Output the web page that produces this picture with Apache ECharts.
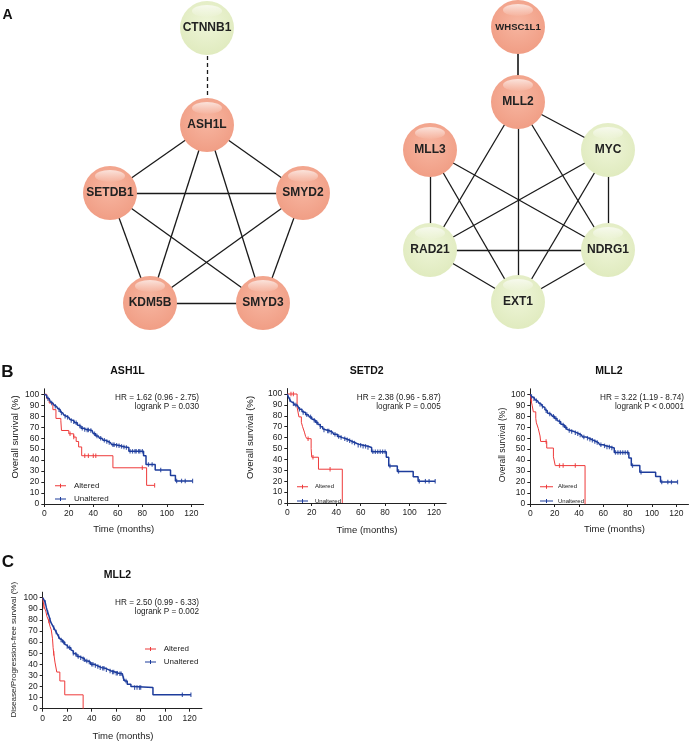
<!DOCTYPE html>
<html><head><meta charset="utf-8">
<script src="https://cdn.jsdelivr.net/npm/echarts@6/dist/echarts.min.js"></script>
<style>html,body{margin:0;padding:0;background:#fff}#c{width:690px;height:743px}</style>
</head><body><div id="c"></div>
<script>
// ---------- Panel A: interaction networks ----------
const networkLeftNodes = ['CTNNB1', 'ASH1L', 'SETDB1', 'SMYD2', 'KDM5B', 'SMYD3'];
const networkRightNodes = ['WHSC1L1', 'MLL2', 'MLL3', 'MYC', 'RAD21', 'NDRG1', 'EXT1'];
const mutatedGenes = ['ASH1L', 'SETDB1', 'SMYD2', 'KDM5B', 'SMYD3', 'WHSC1L1', 'MLL2', 'MLL3'];
const solidEdges = [
  ['ASH1L','SETDB1'],['ASH1L','SMYD2'],['ASH1L','KDM5B'],['ASH1L','SMYD3'],
  ['SETDB1','SMYD2'],['SETDB1','KDM5B'],['SETDB1','SMYD3'],
  ['SMYD2','KDM5B'],['SMYD2','SMYD3'],['KDM5B','SMYD3'],
  ['WHSC1L1','MLL2'],['MLL2','MYC'],['MLL2','RAD21'],['MLL2','EXT1'],['MLL2','NDRG1'],
  ['MLL3','RAD21'],['MLL3','EXT1'],['MLL3','NDRG1'],
  ['MYC','NDRG1'],['MYC','RAD21'],['MYC','EXT1'],
  ['RAD21','NDRG1'],['RAD21','EXT1'],['NDRG1','EXT1']
];
const dashedEdges = [['CTNNB1','ASH1L']];

// ---------- Panels B/C: Kaplan-Meier curves [months, survival %] ----------
const ash1lAltered = [[0,100],[2,96],[4,92],[7,86],[9.5,78],[13.5,76],[14,67],[20,64],[24,61],[26,57],[28,52],[30.5,44],[56,33],[83.5,17],[90,17]];
const ash1lUnaltered = [[0,100],[1,99],[2,97],[3,96],[4,95],[5,93],[6,92],[7,91],[8,90],[9,89],[10,88],[11,87],[12,86],[13,84],[14,83],[15,82],[16,81],[17,80],[18,79],[20,78],[21,77],[22,76],[24,75],[25,74],[27,72],[28,71],[30,69],[32,68],[34,67.5],[37,67],[39,66],[40,64],[42,62],[44,61],[45,60],[47,59],[48,58],[50,57],[52,56],[54,55],[55,54],[58,53.5],[60,53],[62,52.5],[64,52],[66,51.5],[69,48],[81,44],[83,36],[90.5,31],[103,26],[107,21],[121,21]];
const ash1lAlteredCensor = [21,24,33,36,40,42,80,90];
const ash1lUnalteredCensor = [3,6,9,12,14,17,19,22,24,26,29,31,33,35,36,38,41,43,46,49,51,53,56,57,59,61,63,65,67,70,72,74,75,77,78,80,85,88,95,108,112,115,121];

const setd2Altered = [[0,100],[8,88],[9.5,79],[11.5,74],[12.5,70],[14,65],[15,61],[16,59],[19.5,50],[20,42],[25.5,31],[45,0]];
const setd2Unaltered = [[0,100],[1,97],[2,95],[3,93],[4,92],[5,91],[6,90],[8,89],[9,88],[10,86],[12,84],[13,83],[15,81],[17,80],[18,79],[20,77],[21,76],[23,74],[25,72],[27,70],[29,68],[30,67],[32,66],[35,65],[37,64],[38,63],[41,61],[43,60],[45,59],[48,58],[50,57],[52,56],[54,55],[56,54],[58,53],[62,52],[66,51],[69,47],[81,42],[83,34],[90,29],[103,24],[107,20],[121,20]];
const setd2AlteredCensor = [3,5,17,21,35];
const setd2UnalteredCensor = [2,5,7,10,13,16,19,22,24,27,30,33,34,36,39,42,44,47,49,51,53,55,58,60,62,64,66,70,72,74,76,78,80,84,91,108,113,116,121];

const mll2Altered = [[0,100],[0.5,95],[1.5,90],[2.5,84],[4.5,78],[5,74],[6.5,69],[8,62],[8.5,57],[13.5,51],[19,43],[20.5,35],[45,0]];
const mll2Unaltered = [[0,100],[1,98],[2,97],[3,96],[4,95],[5,94],[6,93],[7,92],[8,91],[9,90],[10,89],[11,88],[12,86],[13,85],[14,83],[15,82],[17,81],[18,80],[20,78],[22,76],[23,75],[25,73],[26,72],[28,70],[30,68],[31,67],[33,66],[36,65],[38,64],[40,63],[42,62],[43,61],[46,60],[48,59],[50,58],[52,57],[54,56],[56,55],[57,54],[60,53],[62,52],[66,51],[69,47],[81,42],[83,35],[90,29],[103,25],[107,20],[121,20]];
const mll2AlteredCensor = [1,13,24,27,37];
const mll2UnalteredCensor = [1,3,5,8,10,13,16,19,21,24,27,29,32,34,37,39,41,44,47,49,51,53,55,58,61,63,65,67,70,72,74,76,78,80,84,91,108,113,116,121];

const mll2DfsAltered = [[0,100],[1,92],[2.5,88],[3.5,83],[5,79],[6,74],[7,71],[8,63],[8.5,55],[9,50],[10,42],[11.5,33],[14,25],[18,12.5],[33,0]];
const mll2DfsUnaltered = [[0,100],[1,98],[2,96],[3,91],[4,87],[5,84],[6,80],[7,77],[8,75],[9,73],[10,71],[11,69],[12,67],[13,65],[14,63],[15,62],[16,60],[18,58],[19,57],[20,56],[21,55],[23,53],[24,52],[25,50],[26,49],[28,47],[30,46],[32,45],[34,44],[35,43],[37,42],[39,40],[42,39],[44,38],[46,37],[48,36.5],[51,35],[54,34],[56,33],[59,32],[62,31.5],[65,31],[66,27],[67,25],[69,22],[72,20],[74,19],[90,12.5],[121,12.5]];
const mll2DfsAlteredCensor = [1,5,9];
const mll2DfsUnalteredCensor = [2,4,6,9,11,13,15,17,20,22,25,27,29,31,33,34,36,38,40,41,43,45,47,49,50,52,55,57,58,60,61,63,64,66,68,75,77,79,80,114,121];

const xTicks = [0,20,40,60,80,100,120];
const yTicks = [0,10,20,30,40,50,60,70,80,90,100];
const panelTitles = ['ASH1L','SETD2','MLL2','MLL2'];
const hrTexts = ['HR = 1.62 (0.96 - 2.75)','HR = 2.38 (0.96 - 5.87)','HR = 3.22 (1.19 - 8.74)','HR = 2.50 (0.99 - 6.33)'];
const pTexts = ['logrank P = 0.030','logrank P = 0.005','logrank P < 0.0001','logrank P = 0.002'];
const yTitles = ['Overall survival (%)','Overall survival (%)','Overall survival (%)','Disease/Progression-free survival (%)'];
const xTitle = 'Time (months)';
const legendNames = ['Altered','Unaltered'];

// ---------- layout (positions/styles, not data) ----------
const FONT = "'Liberation Sans', Arial, sans-serif";
const RED = '#ee3a3a', BLUE = '#1d3c9c', INK = '#222';
const nodePos = {
  CTNNB1:[207,28], ASH1L:[207,125], SETDB1:[110,193], SMYD2:[303,193], KDM5B:[150,303], SMYD3:[263,303],
  WHSC1L1:[518,27], MLL2:[518,102], MLL3:[430,150], MYC:[608,150], RAD21:[430,250], NDRG1:[608,250], EXT1:[518,302]
};
const grids = [
  {left:44.3, top:388.8, width:159.3, height:115.2},
  {left:287.3, top:388.55, width:158.9, height:114.45},
  {left:530.3, top:388.8, width:158.2, height:115.2},
  {left:42.7, top:592.15, width:159.25, height:116.55}
];
const panels = [
  {alt:ash1lAltered, un:ash1lUnaltered, altC:ash1lAlteredCensor, unC:ash1lUnalteredCensor,
   title:[127.5,371], hr:[199,397.3,406.7], hrSize:8.2, yt:[15,437,9.6], xt:[123.7,529.3],
   leg:{left:50, top:475.7, gap:3.3, size:8, lh:10, w:11, pad:3}},
  {alt:setd2Altered, un:setd2Unaltered, altC:setd2AlteredCensor, unC:setd2UnalteredCensor,
   title:[366.7,371], hr:[440.7,397.3,406.7], hrSize:8.2, yt:[250,437.5,9.6], xt:[367,530],
   leg:{left:292, top:477.7, gap:6.3, size:6, lh:8, w:11, pad:2}},
  {alt:mll2Altered, un:mll2Unaltered, altC:mll2AlteredCensor, unC:mll2UnalteredCensor,
   title:[609,371], hr:[684,397.3,406.7], hrSize:8.2, yt:[502.3,445,8.6], xt:[614.5,529.3],
   leg:{left:535, top:477.7, gap:6.3, size:6, lh:8, w:13, pad:0}},
  {alt:mll2DfsAltered, un:mll2DfsUnaltered, altC:mll2DfsAlteredCensor, unC:mll2DfsUnalteredCensor,
   title:[117.5,575], hr:[199,602.7,612], hrSize:8.2, yt:[14,649.7,8.1], xt:[123,736.7],
   leg:{left:140, top:639, gap:3, size:8, lh:10, w:11, pad:2.7}}
];

function survAt(curve, t) {
  let v = curve[0][1];
  for (const p of curve) { if (p[0] <= t) v = p[1]; else break; }
  return v;
}

// ---------- build option ----------
const gridOpt = [{left:0, top:0, width:690, height:743, show:false}];
const xAxes = [{gridIndex:0, type:'value', min:0, max:690, show:false}];
const yAxes = [{gridIndex:0, type:'value', min:0, max:743, inverse:true, show:false}];
const series = [];
const legends = [];
const graphic = [];

const nodeNames = networkLeftNodes.concat(networkRightNodes);
function nodeColor(name) {
  const mut = mutatedGenes.indexOf(name) >= 0;
  return {type:'radial', x:0.5, y:0.42, r:0.62,
    colorStops: mut ? [{offset:0,color:'#f7b6a1'},{offset:1,color:'#f09c83'}]
                    : [{offset:0,color:'#eef5d8'},{offset:1,color:'#dfeabd'}]};
}
series.push({
  type:'graph', coordinateSystem:'cartesian2d', xAxisIndex:0, yAxisIndex:0, z:2,
  symbol:'circle', symbolSize:54, roam:false, silent:true,
  data: nodeNames.map(n => ({name:n, value:nodePos[n], itemStyle:{color:nodeColor(n)},
    label:{fontSize: n === 'WHSC1L1' ? 9.5 : 12}})),
  links: solidEdges.map(e => ({source:e[0], target:e[1],
      lineStyle:{type:'solid', width: (e[0]==='WHSC1L1') ? 2 : 1.3, color: (e[0]==='WHSC1L1') ? '#444' : '#1a1a1a'}}))
    .concat(dashedEdges.map(e => ({source:e[0], target:e[1], lineStyle:{type:[4,3], width:1.3, color:'#1a1a1a'}}))),
  label:{show:true, position:'inside', fontWeight:'bold', color:INK, fontFamily:FONT},
  lineStyle:{opacity:1, curveness:0}
});
// specular highlight on each node sphere
series.push({
  type:'scatter', xAxisIndex:0, yAxisIndex:0, z:3, silent:true,
  symbol:'circle', symbolSize:[30,12], symbolOffset:[0,-17],
  data: nodeNames.map(n => nodePos[n]),
  itemStyle:{color:{type:'linear', x:0, y:0, x2:0, y2:1,
    colorStops:[{offset:0,color:'rgba(255,255,255,0.85)'},{offset:1,color:'rgba(255,255,255,0.05)'}]}}
});

const legendIcons = [
  'path://M0,1.5H11V2.5H0Z M5,0H6V4H5Z',
  'path://M0,1.5H11V2.5H0Z M5,0H6V4H5Z',
  'path://M0,1.5H13V2.5H0Z M6,0H7V4H6Z',
  'path://M0,1.5H11V2.5H0Z M5,0H6V4H5Z'
];

panels.forEach((p, i) => {
  const gi = i + 1;
  gridOpt.push(Object.assign({show:false}, grids[i]));
  xAxes.push({gridIndex:gi, type:'value', min:0, max:130,
    axisLine:{show:true, onZero:false, lineStyle:{color:INK, width:1}},
    axisTick:{show:true, length:3, customValues:xTicks, lineStyle:{color:INK, width:1}},
    axisLabel:{show:true, customValues:xTicks, fontSize:8.5, color:INK, margin:5, fontFamily:FONT},
    splitLine:{show:false}});
  yAxes.push({gridIndex:gi, type:'value', min:0, max:105,
    axisLine:{show:true, onZero:false, lineStyle:{color:INK, width:1}},
    axisTick:{show:true, length:3, customValues:yTicks, lineStyle:{color:INK, width:1}},
    axisLabel:{show:true, customValues:yTicks, fontSize:8.5, color:INK, margin:5, fontFamily:FONT},
    splitLine:{show:false}});
  const curves = [
    {name:legendNames[0], data:p.alt, cens:p.altC, color:RED, w:1},
    {name:legendNames[1], data:p.un, cens:p.unC, color:BLUE, w:1.5}
  ];
  curves.forEach(c => {
    series.push({type:'line', name:c.name, xAxisIndex:gi, yAxisIndex:gi, step:'end', showSymbol:false, symbol:'none',
      data:c.data, lineStyle:{color:c.color, width:c.w}, itemStyle:{color:c.color}, silent:true, z:3});
    series.push({type:'scatter', name:c.name + ' censored', xAxisIndex:gi, yAxisIndex:gi, silent:true, z:4,
      symbol:'rect', symbolSize:[1.2, 4.5],
      data:c.cens.map(t => [t, survAt(c.data, t)]), itemStyle:{color:c.color}});
  });
  legends.push({orient:'vertical', left:p.leg.left, top:p.leg.top, itemGap:p.leg.gap,
    itemWidth:p.leg.w, itemHeight:4, icon:legendIcons[i], selectedMode:false,
    data:legendNames,
    textStyle:{fontSize:p.leg.size, lineHeight:p.leg.lh, color:INK, fontFamily:FONT, padding:[0,0,0,p.leg.pad]}});
  graphic.push({type:'text', x:p.title[0], y:p.title[1], style:{text:panelTitles[i], font:'bold 10.5px ' + FONT, fill:'#111', textAlign:'center', textVerticalAlign:'middle'}});
  graphic.push({type:'text', x:p.hr[0], y:p.hr[1], style:{text:hrTexts[i], font:p.hrSize + 'px ' + FONT, fill:INK, textAlign:'right', textVerticalAlign:'middle'}});
  graphic.push({type:'text', x:p.hr[0], y:p.hr[2], style:{text:pTexts[i], font:p.hrSize + 'px ' + FONT, fill:INK, textAlign:'right', textVerticalAlign:'middle'}});
  graphic.push({type:'text', x:p.yt[0], y:p.yt[1], rotation:Math.PI/2, style:{text:yTitles[i], font:p.yt[2] + 'px ' + FONT, fill:INK, textAlign:'center', textVerticalAlign:'middle'}});
  graphic.push({type:'text', x:p.xt[0], y:p.xt[1], style:{text:xTitle, font:'9.5px ' + FONT, fill:INK, textAlign:'center', textVerticalAlign:'middle'}});
});

graphic.push({type:'text', x:7.5, y:15, style:{text:'A', font:'bold 14px ' + FONT, fill:'#111', textAlign:'center', textVerticalAlign:'middle'}});
graphic.push({type:'text', x:7.5, y:372, style:{text:'B', font:'bold 17px ' + FONT, fill:'#111', textAlign:'center', textVerticalAlign:'middle'}});
graphic.push({type:'text', x:8, y:562, style:{text:'C', font:'bold 17px ' + FONT, fill:'#111', textAlign:'center', textVerticalAlign:'middle'}});

const chart = echarts.init(document.getElementById('c'), null, {renderer:'canvas'});
chart.setOption({
  animation:false,
  backgroundColor:'#ffffff',
  textStyle:{fontFamily:FONT},
  grid:gridOpt, xAxis:xAxes, yAxis:yAxes,
  legend:legends, series:series, graphic:graphic
});
</script></body></html>
